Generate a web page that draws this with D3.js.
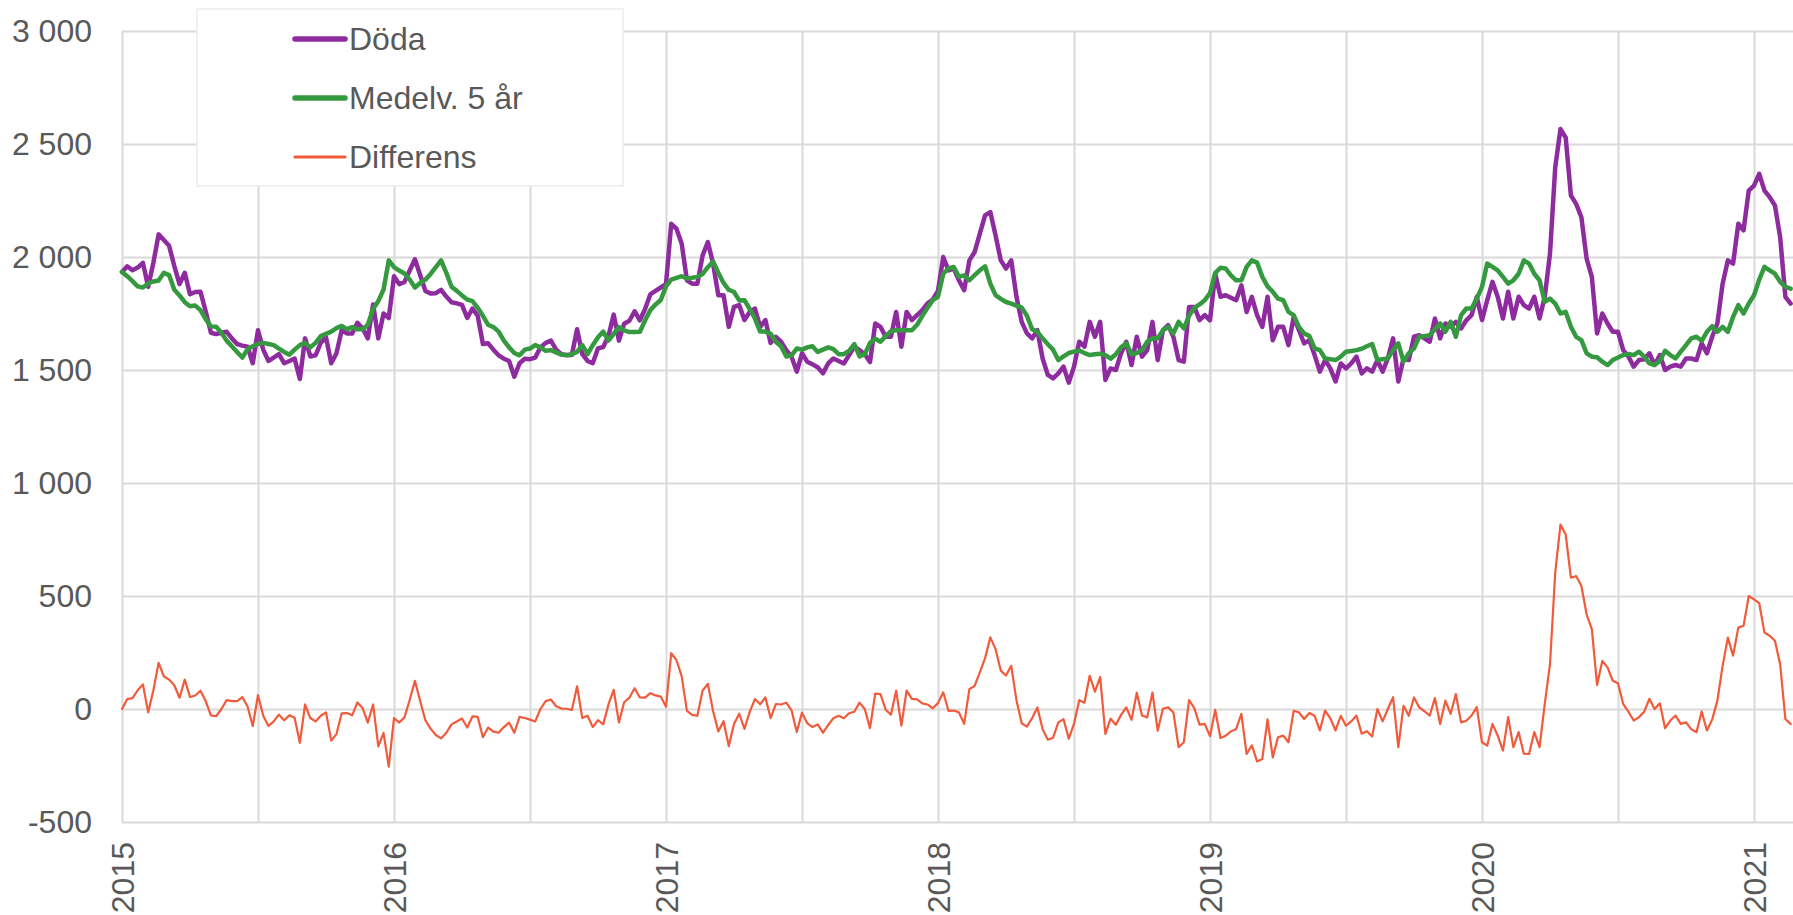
<!DOCTYPE html>
<html>
<head>
<meta charset="utf-8">
<title>Döda per vecka</title>
<script src="https://cdn.jsdelivr.net/npm/d3@7"></script>
<style>
  body { margin: 0; background: #fff; }
  svg { display: block; }
  .axis text, .legend text {
    font-family: "Liberation Sans", Arial, sans-serif;
    font-size: 32px;
    fill: #595959;
  }
  .axis .domain { display: none; }
  .axis line { stroke: #d9d9d9; stroke-width: 2; }
  .series { fill: none; stroke-linejoin: round; stroke-linecap: round; }
</style>
</head>
<body>
<svg id="chart"></svg>
<script>
// tick labels / categories
const years = ['2015', '2016', '2017', '2018', '2019', '2020', '2021'];
const weeksPerYear = 52;
const yTicks = [-500, 0, 500, 1000, 1500, 2000, 2500, 3000];
const seriesNames = ['Döda', 'Medelv. 5 år', 'Differens'];

// weekly values, one row per year (2021 is partial)
const doda = [
  1934,1959,1941,1953,1974,1868,1975,2100,2075,2050,1960,1880,1930,1835,1845,1846,1760,1665,1659,1665,1669,1640,1615,1608,1603,1530,1676,1590,1540,1555,1570,1530,1540,1551,1460,1640,1560,1565,1620,1645,1530,1574,1676,1662,1662,1709,1684,1640,1790,1640,1750,1730,
  1915,1880,1890,1940,1990,1920,1850,1838,1840,1855,1825,1800,1795,1788,1730,1772,1740,1615,1618,1590,1565,1550,1540,1470,1530,1550,1548,1555,1600,1620,1630,1590,1570,1566,1566,1680,1570,1540,1530,1596,1602,1650,1745,1630,1705,1718,1760,1720,1770,1835,1850,1865,
  1880,2147,2125,2059,1897,1882,1882,2007,2066,1971,1831,1831,1691,1779,1787,1721,1757,1772,1691,1721,1620,1647,1625,1588,1559,1493,1574,1537,1525,1512,1485,1529,1551,1540,1529,1566,1603,1588,1570,1535,1706,1691,1647,1647,1757,1603,1757,1721,1743,1765,1795,1812,
  1850,2000,1941,1949,1897,1853,1985,2022,2103,2184,2199,2096,1985,1949,1985,1824,1713,1662,1640,1676,1551,1478,1463,1485,1515,1444,1515,1625,1603,1713,1647,1713,1456,1507,1500,1574,1625,1522,1647,1559,1588,1713,1544,1676,1698,1647,1544,1537,1779,1779,1721,1743,
  1720,1926,1824,1831,1820,1809,1875,1757,1824,1743,1691,1824,1632,1691,1691,1610,1735,1676,1618,1632,1566,1493,1544,1507,1449,1529,1507,1529,1559,1485,1507,1493,1544,1493,1551,1640,1449,1551,1544,1647,1654,1640,1625,1728,1640,1706,1691,1713,1684,1720,1743,1824,
  1721,1809,1890,1824,1728,1846,1728,1824,1787,1772,1824,1728,1824,2015,2397,2566,2529,2272,2235,2176,1993,1912,1662,1750,1706,1669,1669,1588,1559,1515,1544,1547,1574,1522,1566,1500,1515,1522,1515,1551,1551,1544,1618,1574,1647,1706,1882,1985,1971,2147,2118,2294,
  2316,2368,2294,2265,2228,2088,1824,1794
];

const medel = [
  1934,1915,1893,1870,1865,1883,1892,1896,1930,1920,1855,1830,1800,1782,1785,1765,1725,1693,1691,1665,1630,1605,1580,1555,1592,1605,1615,1620,1615,1610,1595,1580,1568,1590,1610,1620,1600,1620,1650,1660,1670,1685,1695,1680,1690,1680,1680,1700,1770,1805,1856,1985,
  1955,1940,1927,1900,1865,1885,1900,1925,1955,1985,1930,1868,1850,1830,1812,1805,1775,1740,1700,1690,1670,1630,1600,1575,1565,1590,1595,1610,1600,1585,1588,1578,1568,1565,1570,1580,1610,1570,1610,1645,1670,1630,1660,1690,1675,1668,1668,1669,1720,1765,1790,1810,
  1870,1900,1908,1915,1905,1908,1912,1925,1955,1980,1930,1885,1855,1845,1808,1809,1770,1728,1670,1670,1660,1625,1605,1560,1565,1595,1590,1600,1605,1580,1590,1600,1592,1570,1570,1585,1615,1560,1570,1620,1638,1625,1650,1672,1676,1676,1676,1676,1700,1740,1775,1809,
  1824,1926,1949,1956,1912,1919,1897,1920,1941,1959,1882,1831,1815,1801,1794,1785,1776,1740,1680,1669,1640,1614,1590,1544,1560,1575,1581,1586,1575,1566,1570,1572,1566,1550,1570,1600,1618,1570,1575,1588,1625,1640,1640,1675,1691,1662,1713,1684,1740,1775,1790,1809,
  1840,1930,1952,1949,1919,1897,1897,1956,1985,1975,1912,1870,1846,1816,1809,1757,1743,1691,1662,1650,1596,1588,1551,1548,1544,1559,1581,1584,1588,1594,1605,1615,1544,1548,1551,1588,1618,1537,1574,1596,1647,1650,1654,1680,1706,1669,1713,1647,1743,1772,1772,1816,
  1868,1971,1956,1941,1912,1882,1897,1926,1985,1971,1926,1897,1801,1816,1794,1750,1757,1691,1647,1632,1574,1559,1556,1537,1522,1544,1555,1566,1571,1566,1581,1559,1529,1522,1541,1585,1566,1551,1581,1610,1640,1647,1629,1669,1694,1669,1691,1669,1735,1787,1750,1794,
  1831,1900,1956,1941,1926,1890,1868,1860
];

const differens = [
  0,44,48,83,109,-15,83,204,145,130,105,50,130,53,60,81,35,-28,-32,0,39,35,35,53,11,-75,61,-30,-75,-55,-25,-50,-28,-39,-150,20,-40,-55,-30,-15,-140,-111,-19,-18,-28,29,4,-60,20,-165,-106,-255,
  -40,-60,-37,40,125,35,-50,-87,-115,-130,-105,-68,-55,-42,-82,-33,-35,-125,-82,-100,-105,-80,-60,-105,-35,-40,-47,-55,0,35,42,12,2,1,-4,100,-40,-30,-80,-49,-68,20,85,-60,30,50,92,51,50,70,60,55,
  10,247,217,144,-8,-26,-30,82,111,-9,-99,-54,-164,-66,-21,-88,-13,44,21,51,-40,22,20,28,-6,-102,-16,-63,-80,-68,-105,-71,-41,-30,-41,-19,-12,28,0,-85,68,66,-3,-25,81,-73,81,45,43,25,20,3,
  26,74,-8,-7,-15,-66,88,102,162,225,317,265,170,148,191,39,-63,-78,-40,7,-89,-136,-127,-59,-45,-131,-66,39,28,147,77,141,-110,-43,-70,-26,7,-48,72,-29,-37,73,-96,1,7,-15,-169,-147,39,4,-69,-66,
  -120,-4,-128,-118,-99,-88,-22,-199,-161,-232,-221,-46,-214,-125,-118,-147,-8,-15,-44,-18,-30,-95,-7,-41,-95,-30,-74,-55,-29,-109,-98,-122,0,-55,0,52,-169,14,-30,51,7,-10,-29,48,-66,37,-22,66,-59,-52,-29,8,
  -147,-162,-66,-117,-184,-36,-169,-102,-198,-199,-102,-169,23,199,603,816,772,581,588,544,419,353,106,213,184,125,114,22,-12,-51,-37,-12,45,0,25,-85,-51,-29,-66,-59,-89,-103,-11,-95,-47,37,191,316,236,360,368,500,
  485,468,338,324,302,198,-44,-66
];

class WeeklyChart {
  constructor(_config, _series) {
    this.config = {
      parentElement: _config.parentElement,
      containerWidth: _config.containerWidth || 1793,
      containerHeight: _config.containerHeight || 915,
      margin: { top: 31, right: 39, left: 122, bottom: 93 }
    };
    this.series = _series;
    this.initVis();
  }

  initVis() {
    let vis = this;

    vis.width = vis.config.containerWidth - vis.config.margin.left - vis.config.margin.right;
    vis.height = vis.config.containerHeight - vis.config.margin.top - vis.config.margin.bottom;

    vis.svg = d3.select(vis.config.parentElement)
      .attr('width', vis.config.containerWidth)
      .attr('height', vis.config.containerHeight);

    vis.chart = vis.svg.append('g')
      .attr('transform', `translate(${vis.config.margin.left}, ${vis.config.margin.top})`);

    // x is the week number counted from week 1 2015, one year = 52 steps
    let lastYear = (years.length - 1) * weeksPerYear;
    vis.xScale = d3.scaleLinear()
      .domain([0, lastYear])
      .range([0, vis.width]);

    vis.yScale = d3.scaleLinear()
      .domain([yTicks[0], yTicks[yTicks.length - 1]])
      .range([vis.height, 0]);

    // swedish style numbers: space as thousands separator, plain hyphen minus
    let sv = d3.formatLocale({ decimal: ',', thousands: '\u00a0', grouping: [3], currency: ['', ' kr'], minus: '-' });
    let fmt = sv.format(',d');

    // horizontal grid + y labels
    vis.yAxisGroup = vis.chart.append('g')
      .attr('class', 'axis y-axis')
      .call(d3.axisLeft(vis.yScale)
        .tickValues(yTicks)
        .tickSize(-(vis.config.containerWidth - vis.config.margin.left))
        .tickPadding(30)
        .tickFormat(fmt));

    // vertical grid every half year, year labels only on whole years
    let halfYears = d3.range(0, lastYear + 1, weeksPerYear / 2);
    vis.xAxisGroup = vis.chart.append('g')
      .attr('class', 'axis x-axis')
      .attr('transform', `translate(0, ${vis.height})`)
      .call(d3.axisBottom(vis.xScale)
        .tickValues(halfYears)
        .tickSize(-vis.height)
        .tickFormat(w => w % weeksPerYear === 0 ? years[w / weeksPerYear] : ''));

    vis.xAxisGroup.selectAll('text')
      .attr('text-anchor', 'end')
      .attr('transform', 'rotate(-90)')
      .attr('x', -20)
      .attr('y', 0)
      .attr('dy', '0.35em');

    vis.line = d3.line()
      .x((d, i) => vis.xScale(i))
      .y(d => vis.yScale(d));

    vis.chart.selectAll('.series')
      .data(vis.series)
      .join('path')
        .attr('class', 'series')
        .attr('stroke', d => d.color)
        .attr('stroke-width', d => d.width)
        .attr('d', d => vis.line(d.values));

    // legend box in the top left corner
    vis.legend = vis.svg.append('g')
      .attr('class', 'legend')
      .attr('transform', 'translate(197, 9)');

    vis.legend.append('rect')
      .attr('width', 426)
      .attr('height', 177)
      .attr('fill', '#fff')
      .attr('stroke', '#ededed')
      .attr('stroke-width', 1.5);

    let rows = vis.legend.selectAll('.row')
      .data(vis.series)
      .join('g')
        .attr('class', 'row')
        .attr('transform', (d, i) => `translate(0, ${30 + i * 59})`);

    rows.append('line')
      .attr('x1', 98)
      .attr('x2', 148)
      .attr('stroke', d => d.color)
      .attr('stroke-width', d => d.width + 1)
      .attr('stroke-linecap', 'round');

    rows.append('text')
      .attr('x', 152)
      .attr('dy', '0.35em')
      .text(d => d.name);
  }
}

const chart = new WeeklyChart({ parentElement: '#chart' }, [
  { name: seriesNames[0], values: doda, color: '#8e2b9f', width: 4.5 },
  { name: seriesNames[1], values: medel, color: '#35993f', width: 4.5 },
  { name: seriesNames[2], values: differens, color: '#f15a3a', width: 2.2 }
]);
</script>
</body>
</html>
